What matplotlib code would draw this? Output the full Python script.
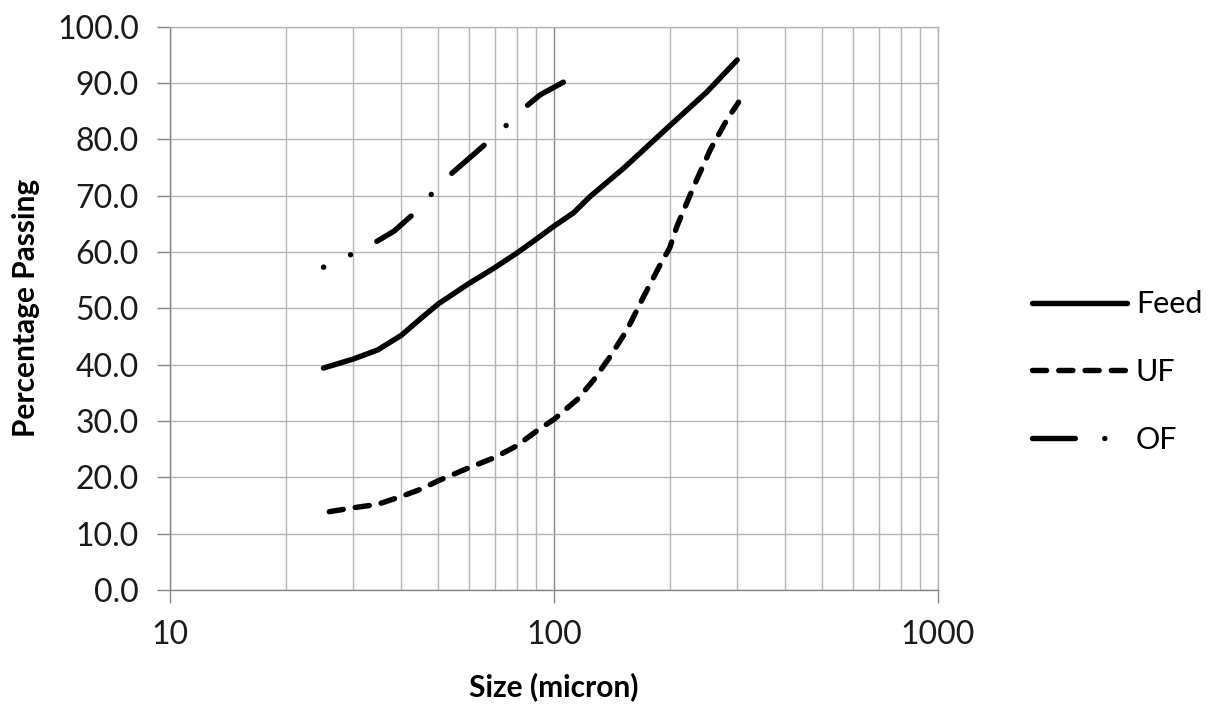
import matplotlib
matplotlib.use("Agg")
import matplotlib.pyplot as plt
from matplotlib.lines import Line2D
from matplotlib.ticker import FixedLocator, FuncFormatter, LogLocator, NullFormatter

plt.rcParams['font.family'] = ['Lato', 'DejaVu Sans']

# ---- data ----
feed_x = [25.1, 30, 34.7, 40, 45, 50, 60, 70, 80, 90, 100, 112.6, 124.4, 152, 200, 250, 300]
feed_y = [39.4, 41.0, 42.6, 45.2, 48.2, 50.8, 54.4, 57.2, 59.8, 62.3, 64.6, 67.0, 69.9, 74.9, 82.4, 88.4, 94.1]

uf_x = [26.0, 30, 34.7, 40, 45, 50, 60, 70, 80, 90, 100, 114.9, 126.9, 140.2, 155, 171.2,
        189.2, 200, 209.1, 231, 255.4, 282.2, 302.5]
uf_y = [13.9, 14.6, 15.2, 16.6, 17.9, 19.4, 21.7, 23.5, 25.6, 28.2, 30.3, 33.8, 37.3, 41.5, 46.2, 52.1,
        57.8, 60.7, 64.6, 71.6, 78.2, 83.5, 86.6]

of_x = [25.1, 29.3, 34.0, 38.3, 42.8, 47.7, 53.4, 66.4, 74.9, 84.1, 92.0, 109.4]
of_y = [57.3, 59.4, 61.6, 63.7, 66.6, 70.1, 73.6, 79.2, 82.4, 85.7, 87.9, 90.7]

series_labels = ["Feed", "UF", "OF"]
y_ticks = [0, 10, 20, 30, 40, 50, 60, 70, 80, 90, 100]
x_ticks = [10, 100, 1000]

# ---- figure ----
W, H, DPI = 1211, 706, 100
fig = plt.figure(figsize=(W / DPI, H / DPI), dpi=DPI)
ax = fig.add_axes([170 / W, 1 - 590 / H, (938 - 170) / W, (590 - 26.7) / H])

LW = 3.9
grid_c = '#b5b5b5'
axis_c = '#868686'
UF_DASH = (2.6, 2.25)
OF_DASH = (7.9, 5.45, 0.001, 5.45)

ax.set_xscale('log')
ax.set_xlim(10, 1000)
ax.set_ylim(0, 100)

ax.plot(feed_x, feed_y, color='black', lw=LW, solid_capstyle='round', solid_joinstyle='round', zorder=3)
ax.plot(uf_x, uf_y, color='black', lw=LW, linestyle=(0, UF_DASH), dash_capstyle='round',
        dash_joinstyle='round', zorder=3)
ax.plot(of_x, of_y, color='black', lw=LW, linestyle=(7.85, OF_DASH), dash_capstyle='round',
        dash_joinstyle='round', zorder=3)

# ticks / grid
ax.yaxis.set_major_locator(FixedLocator(y_ticks))
ax.yaxis.set_major_formatter(FuncFormatter(lambda v, p: f"{v:.1f}"))
ax.xaxis.set_major_locator(FixedLocator(x_ticks))
ax.xaxis.set_major_formatter(FuncFormatter(lambda v, p: f"{int(v)}"))
ax.xaxis.set_minor_locator(LogLocator(base=10, subs=range(2, 10)))
ax.xaxis.set_minor_formatter(NullFormatter())

ax.grid(True, which='major', axis='y', color=grid_c, lw=1.0)
ax.grid(True, which='minor', axis='x', color=grid_c, lw=1.0)
ax.grid(True, which='major', axis='x', color=axis_c, lw=1.0)
ax.set_axisbelow(True)

ax.tick_params(axis='both', which='major', direction='out', length=9.5, width=1.0, color=axis_c,
               labelsize=23, labelcolor='#1a1a1a')
ax.tick_params(axis='x', which='major', pad=12)
ax.tick_params(axis='y', which='major', pad=13)
ax.tick_params(axis='x', which='minor', length=0)

for s in ['left', 'bottom']:
    ax.spines[s].set_color(axis_c)
    ax.spines[s].set_linewidth(1.0)
for s in ['top', 'right']:
    ax.spines[s].set_color(grid_c)
    ax.spines[s].set_linewidth(1.0)

ax.set_xlabel("Size (micron)", fontsize=21.5, fontweight='bold', labelpad=16)
ax.set_ylabel("Percentage Passing", fontsize=21.5, fontweight='bold', labelpad=12)

handles = [
    Line2D([], [], color='black', lw=LW, solid_capstyle='round'),
    Line2D([], [], color='black', lw=LW, linestyle=(0, UF_DASH), dash_capstyle='round'),
    Line2D([], [], color='black', lw=LW, linestyle=(0, OF_DASH), dash_capstyle='round'),
]
leg = fig.legend(handles, series_labels, loc='center left', bbox_to_anchor=(1032 / W, 1 - 372 / H),
                 bbox_transform=fig.transFigure, frameon=False, fontsize=22,
                 handlelength=3.1, handletextpad=0.3, labelspacing=1.3,
                 borderpad=0, borderaxespad=0)

fig.savefig("out.png", dpi=DPI)
